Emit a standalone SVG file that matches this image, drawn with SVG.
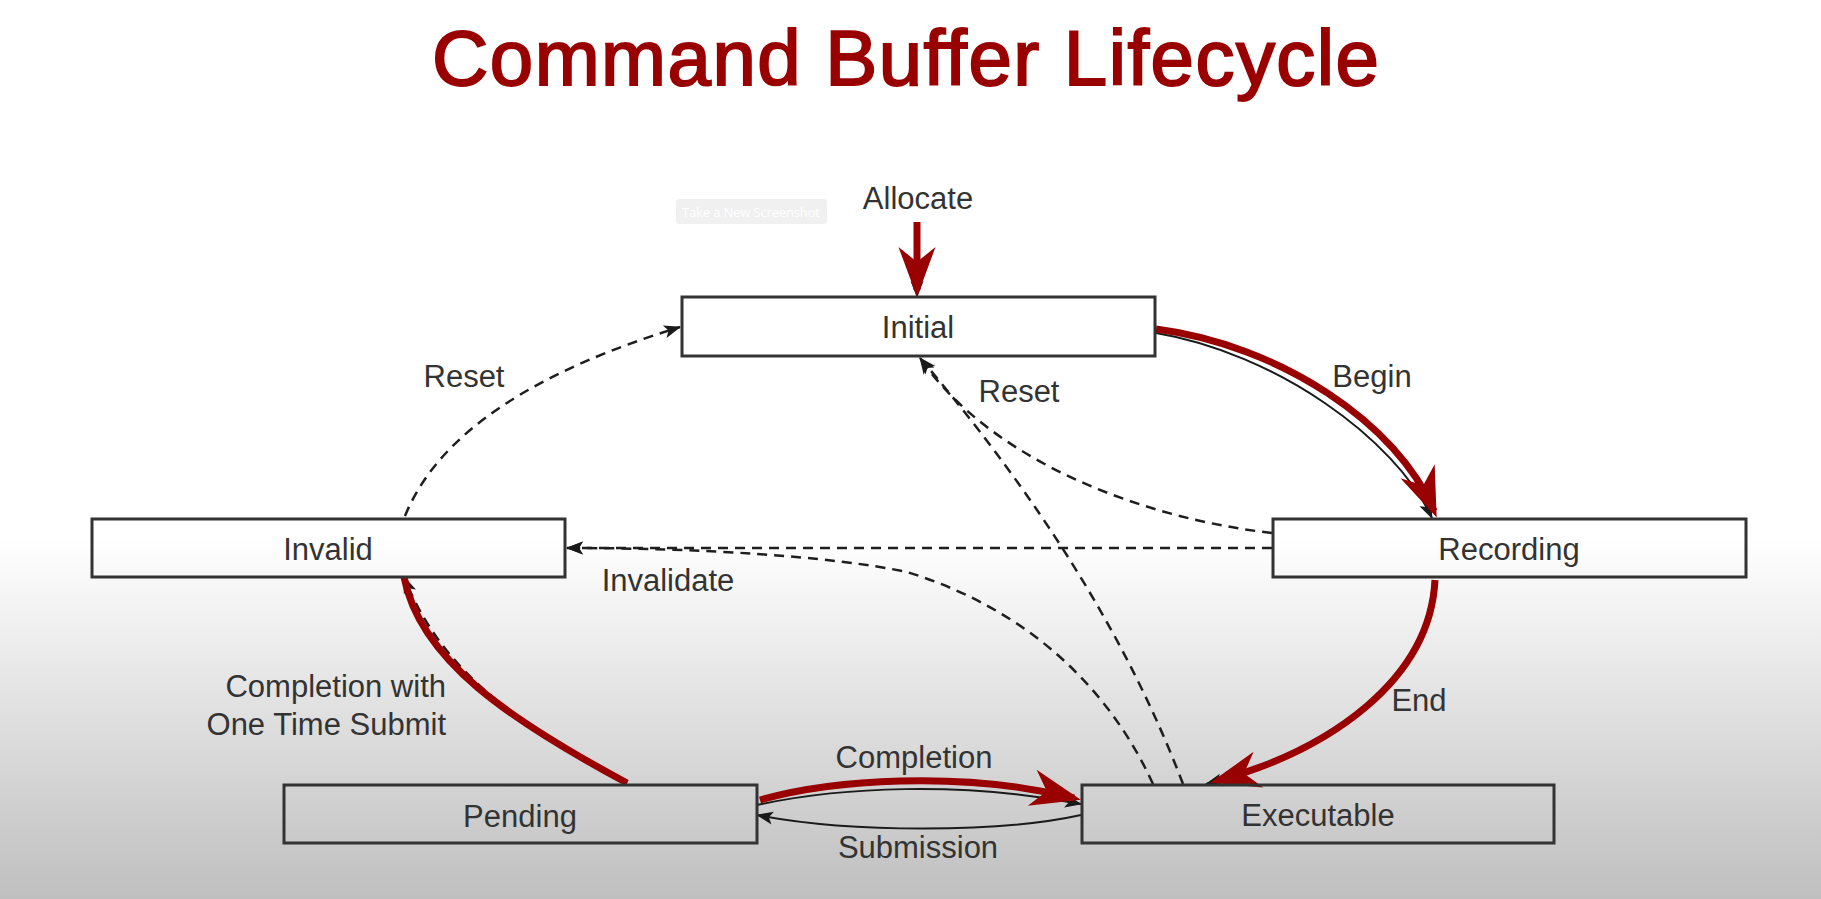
<svg xmlns="http://www.w3.org/2000/svg" width="1821" height="899" viewBox="0 0 1821 899">
<defs>
<linearGradient id="bg" gradientUnits="userSpaceOnUse" x1="0" y1="0" x2="0" y2="899">
<stop offset="0" stop-color="#ffffff"/>
<stop offset="0.6" stop-color="#ffffff"/>
<stop offset="0.78" stop-color="#e2e2e2"/>
<stop offset="1" stop-color="#bfbfbf"/>
</linearGradient>
<marker id="redHead" markerUnits="userSpaceOnUse" viewBox="0 -19 50 38" refX="43" refY="0" markerWidth="50" markerHeight="38" orient="auto" overflow="visible">
<path d="M0,-18.5 L50,0 L0,18.5 L15,0 Z" fill="#990000"/>
</marker>
<marker id="blkHead" markerUnits="userSpaceOnUse" viewBox="0 -7 17 14" refX="16" refY="0" markerWidth="17" markerHeight="14" orient="auto" overflow="visible">
<path d="M0,-6.5 L17,0 L0,6.5 L4,0 Z" fill="#1a1a1a"/>
</marker>
<style>
.node rect{fill:none;stroke:#333333;stroke-width:3}
.lbl{font-family:"Liberation Sans",Arial,sans-serif;font-size:31px;fill:#333333;text-anchor:middle}
.title{font-family:"Liberation Sans",Arial,sans-serif;font-size:78px;fill:#990000;stroke:#990000;stroke-width:2}
.red{fill:none;stroke:#990000;stroke-width:7}
.thin{fill:none;stroke:#1a1a1a;stroke-width:2}
.dash{fill:none;stroke:#1e1e1e;stroke-width:2.5;stroke-dasharray:10 7}
</style>
</defs>
<rect x="0" y="0" width="1821" height="899" fill="url(#bg)"/>
<text class="title" x="432" y="85" textLength="947" lengthAdjust="spacing">Command Buffer Lifecycle</text>
<g id="overlay">
<rect x="676" y="199" width="151" height="25" rx="3" fill="#f0f0f0"/>
<text x="751" y="217" font-family="'Open Sans','Liberation Sans',sans-serif" font-size="13" fill="#ffffff" text-anchor="middle" textLength="138">Take a New Screenshot</text>
</g>
<g id="connectors">
<path class="dash" d="M405,516 C440,430 540,370 680,327" marker-end="url(#blkHead)"/>
<path class="dash" d="M1272,548 L567,548" marker-end="url(#blkHead)"/>
<path class="dash" d="M1153,784 C1110,690 1030,610 907,572 C830,556 700,548 567,548" marker-end="url(#blkHead)"/>
<path class="dash" d="M1272,533 C1140,518 990,460 920,358" marker-end="url(#blkHead)"/>
<path class="dash" d="M1183,784 Q1102,571 920,358" marker-end="url(#blkHead)"/>
<path class="dash" d="M627,783 C510,720 440,668 404,577" marker-end="url(#blkHead)"/>
<path class="thin" d="M917,226 L917,297" marker-end="url(#blkHead)"/>
<path class="thin" d="M1156,333 C1275,353 1395,438 1432,518" marker-end="url(#blkHead)"/>
<path class="thin" d="M1433,580 C1428,682 1328,752 1206,784" marker-end="url(#blkHead)"/>
<path class="thin" d="M757,805 C840,787 960,781 1081,804" marker-end="url(#blkHead)"/>
<path class="thin" d="M1081,815 C1000,833 850,833 757,815" marker-end="url(#blkHead)"/>
<path class="red" d="M917,222 L917,290" marker-end="url(#redHead)"/>
<path class="red" d="M1156,329 C1280,345 1398,424 1434,511" marker-end="url(#redHead)"/>
<path class="red" d="M1435,580 C1430,680 1330,750 1217,781" marker-end="url(#redHead)"/>
<path class="red" d="M760,800 C830,780 960,770 1074,798" marker-end="url(#redHead)"/>
<path class="red" d="M627,783 C510,720 420,660 404,577"/>
</g>
<g id="initial" class="node"><rect x="682" y="297" width="473" height="59"/><text class="lbl" x="918" y="338">Initial</text></g>
<g id="recording" class="node"><rect x="1273" y="519" width="473" height="58"/><text class="lbl" x="1509" y="560">Recording</text></g>
<g id="invalid" class="node"><rect x="92" y="519" width="473" height="58"/><text class="lbl" x="328" y="560">Invalid</text></g>
<g id="pending" class="node"><rect x="284" y="785" width="473" height="58"/><text class="lbl" x="520" y="827">Pending</text></g>
<g id="executable" class="node"><rect x="1082" y="785" width="472" height="58"/><text class="lbl" x="1318" y="826">Executable</text></g>
<g id="labels">
<text class="lbl" x="918" y="209">Allocate</text>
<text class="lbl" x="464" y="387">Reset</text>
<text class="lbl" x="1019" y="402">Reset</text>
<text class="lbl" x="1372" y="387">Begin</text>
<text class="lbl" x="668" y="591">Invalidate</text>
<text class="lbl" x="446" y="697" style="text-anchor:end">Completion with</text>
<text class="lbl" x="446" y="735" style="text-anchor:end">One Time Submit</text>
<text class="lbl" x="1419" y="711">End</text>
<text class="lbl" x="914" y="768">Completion</text>
<text class="lbl" x="918" y="858">Submission</text>
</g>
</svg>
